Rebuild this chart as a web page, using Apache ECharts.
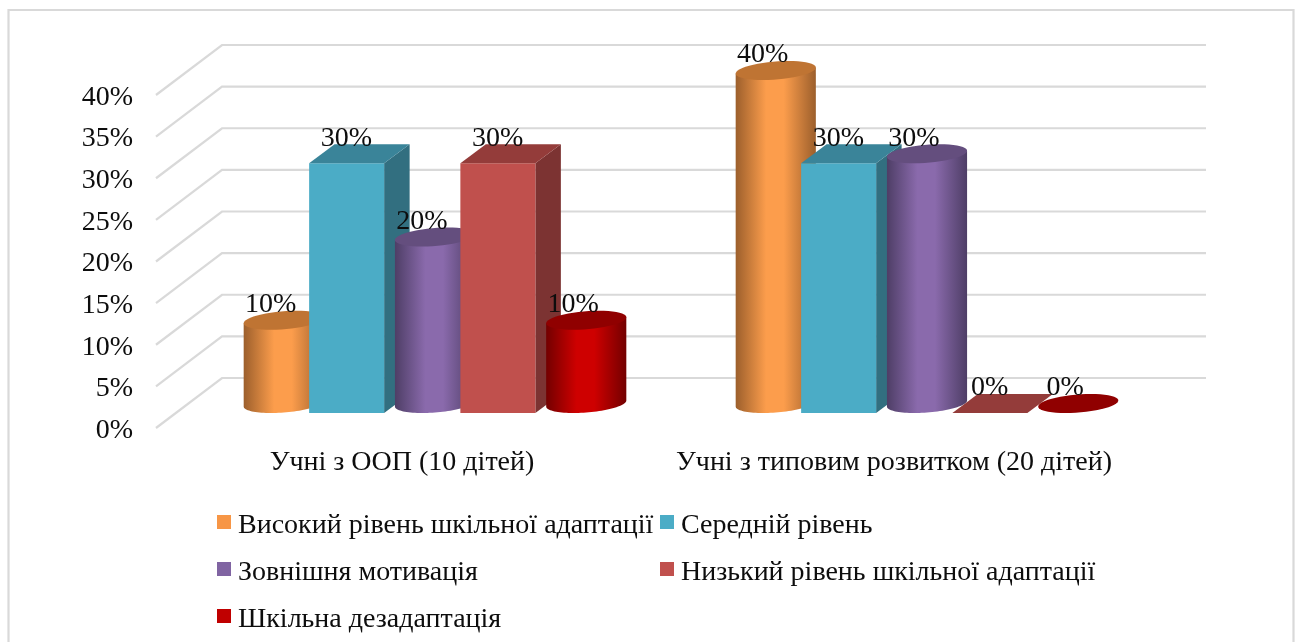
<!DOCTYPE html>
<html>
<head>
<meta charset="utf-8">
<style>html,body{margin:0;padding:0;background:#fff}#c{width:1297px;height:642px}</style>
<script src="https://cdn.jsdelivr.net/npm/echarts@6/dist/echarts.min.js"></script>
</head>
<body>
<div id="c"></div>
<script>
var categories = ['Учні з ООП (10 дітей)', 'Учні з типовим розвитком (20 дітей)'];
var seriesNames = ['Високий рівень шкільної адаптації', 'Середній рівень', 'Зовнішня мотивація', 'Низький рівень шкільної адаптації', 'Шкільна дезадаптація'];
var highLevel = [10, 40];
var middleLevel = [30, 30];
var externalMotivation = [20, 30];
var lowLevel = [30, 0];
var disadaptation = [10, 0];
var yTicks = [0, 5, 10, 15, 20, 25, 30, 35, 40];

var FONT = '"Liberation Serif","Times New Roman",serif';
var TEXT = '#0d0d0d';
var WALL_DX = 66, WALL_DY = 50;
var BAR_DX = 25.5, BAR_DY = 19, BAR_W = 75, CYL_RX = 38;
var SLOT = 0.1537;

var looks = [
  {shape: 'cyl', color: '#F79646', top: '#BF7433', edge: '#9C5F2C', mid: '#FC9D4C'},
  {shape: 'box', color: '#4BACC6', top: '#3A8499', side: '#326F80'},
  {shape: 'cyl', color: '#8064A2', top: '#644E7E', edge: '#4E3E66', mid: '#8A6AAC'},
  {shape: 'box', color: '#C0504D', top: '#943C3A', side: '#7C3332'},
  {shape: 'cyl', color: '#C00000', top: '#900000', edge: '#730000', mid: '#CE0000'}
];
var seriesValues = [highLevel, middleLevel, externalMotivation, lowLevel, disadaptation];

function ellipsePoint(cx, cy, t) {
  return [cx + CYL_RX * Math.cos(t) + BAR_DX / 2 * Math.sin(t), cy - BAR_DY / 2 * Math.sin(t)];
}

function renderBar(seriesIdx, params, api) {
  var look = looks[seriesIdx];
  var cat = api.value(0), val = api.value(1);
  var base = api.coord([cat, 0]);
  var topPt = api.coord([cat, val]);
  var band = api.size([1, 0])[0];
  var cx = base[0] + WALL_DX / 2 + (seriesIdx - 2) * band * SLOT;
  var floorY = base[1] - WALL_DY / 2 + 0.5;
  var topY = topPt[1] - WALL_DY / 2 + 0.5;
  var kids = [];
  if (look.shape === 'box') {
    var fl = cx - BAR_DX / 2 - BAR_W / 2, fr = fl + BAR_W;
    var fb = floorY + BAR_DY / 2, ft = topY + BAR_DY / 2;
    if (val > 0) {
      kids.push({type: 'polygon', shape: {points: [[fr, ft], [fr + BAR_DX, ft - BAR_DY], [fr + BAR_DX, fb - BAR_DY], [fr, fb]]}, style: {fill: look.side}});
      kids.push({type: 'rect', shape: {x: fl, y: ft, width: BAR_W, height: fb - ft}, style: {fill: look.color}});
    }
    kids.push({type: 'polygon', shape: {points: [[fl, ft], [fr, ft], [fr + BAR_DX, ft - BAR_DY], [fl + BAR_DX, ft - BAR_DY]]}, style: {fill: look.top}});
  } else {
    var t0 = Math.atan2(BAR_DX / 2, CYL_RX);
    var N = 48, i, pts = [], topPts = [];
    if (val > 0) {
      for (i = 0; i <= N; i++) {
        pts.push(ellipsePoint(cx, floorY, t0 + Math.PI + Math.PI * i / N));
      }
      var right = ellipsePoint(cx, topY, t0), left = ellipsePoint(cx, topY, t0 + Math.PI);
      pts.push(right, left);
      kids.push({type: 'polygon', shape: {points: pts}, style: {
        fill: {type: 'linear', x: 0, y: 0, x2: 1, y2: 0, colorStops: [
          {offset: 0, color: look.edge}, {offset: 0.38, color: look.mid},
          {offset: 0.6, color: look.mid}, {offset: 1, color: look.edge}]}
      }});
    }
    for (i = 0; i < N; i++) { topPts.push(ellipsePoint(cx, topY, 2 * Math.PI * i / N)); }
    kids.push({type: 'polygon', shape: {points: topPts}, style: {fill: look.top}});
  }
  kids.push({type: 'text', z2: 100, style: {
    text: val + '%', x: cx - 13, y: topY - 15.5, align: 'center', verticalAlign: 'middle',
    font: '28px ' + FONT, fill: TEXT
  }});
  return {type: 'group', children: kids};
}

function renderWall(params, api) {
  var v = api.value(1);
  var p = api.coord([0, v]);
  var q = api.coord([1, v]);
  var band = api.size([1, 0])[0];
  var x0 = p[0] - band / 2, x1 = q[0] + band / 2;
  return {type: 'polyline', shape: {points: [[x0, p[1]], [x0 + WALL_DX, p[1] - WALL_DY], [x1 + WALL_DX, p[1] - WALL_DY]]},
    style: {stroke: '#D9D9D9', lineWidth: 2.2, fill: 'none'}};
}

var series = [{
  type: 'custom', name: 'wall', silent: true, renderItem: renderWall, clip: false,
  data: yTicks.map(function (v) { return [0, v]; }), encode: {x: 0, y: 1}
}];
seriesNames.forEach(function (name, s) {
  series.push({
    type: 'custom', name: name, clip: false,
    itemStyle: {color: looks[s].color},
    renderItem: function (params, api) { return renderBar(s, params, api); },
    data: seriesValues[s].map(function (v, c) { return [c, v]; }),
    encode: {x: 0, y: 1}
  });
});

var legendText = {
  fontFamily: FONT, fontSize: 28, color: TEXT,
  rich: {t: {fontFamily: FONT, fontSize: 28, color: TEXT, lineHeight: 28, padding: [8, 0, 0, 2]}}
};
var legendFormat = function (name) { return '{t|' + name + '}'; };
var chart = echarts.init(document.getElementById('c'), null, {renderer: 'canvas'});
chart.setOption({
  animation: false,
  backgroundColor: '#fff',
  tooltip: {show: false},
  grid: {left: 156, top: 95, width: 984, height: 333, containLabel: false},
  xAxis: {
    type: 'category', data: categories,
    axisLine: {show: false}, axisTick: {show: false}, splitLine: {show: false},
    axisLabel: {fontFamily: FONT, fontSize: 28, color: TEXT, margin: 21, interval: 0}
  },
  yAxis: {
    type: 'value', min: 0, max: 40, interval: 5,
    axisLine: {show: false}, axisTick: {show: false}, splitLine: {show: false},
    axisLabel: {
      margin: 23, formatter: '{t|{value}%}',
      rich: {t: {fontFamily: FONT, fontSize: 28, color: TEXT, lineHeight: 28, padding: [5, 0, 0, 0]}}
    }
  },
  legend: [
    {orient: 'vertical', left: 217, top: 504, padding: 0, itemGap: 11, itemWidth: 14, itemHeight: 14, icon: 'rect',
     selectedMode: false, textStyle: legendText, formatter: legendFormat, data: [seriesNames[0], seriesNames[2], seriesNames[4]]},
    {orient: 'vertical', left: 660, top: 504, padding: 0, itemGap: 11, itemWidth: 14, itemHeight: 14, icon: 'rect',
     selectedMode: false, textStyle: legendText, formatter: legendFormat, data: [seriesNames[1], seriesNames[3]]}
  ],
  graphic: [{
    type: 'polyline', silent: true,
    shape: {points: [[8.5, 650], [8.5, 10], [1293.5, 10], [1293.5, 650]]},
    style: {stroke: '#D9D9D9', lineWidth: 2.2, fill: 'none'}
  }],
  series: series
});
</script>
</body>
</html>
